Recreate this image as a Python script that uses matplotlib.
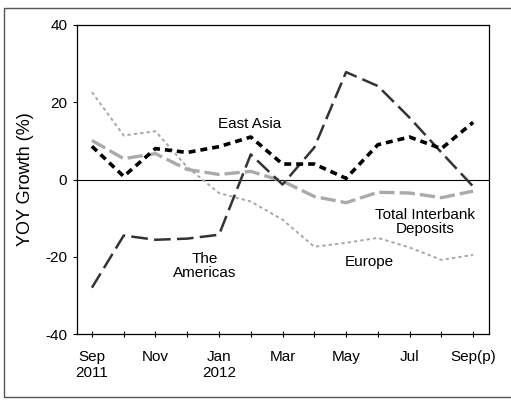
import numpy as np
import matplotlib
matplotlib.use("Agg")
import matplotlib.pyplot as plt
from matplotlib.patches import Rectangle

plt.rcParams['font.family'] = ['Liberation Sans', 'DejaVu Sans']
plt.rcParams['lines.scale_dashes'] = False
plt.rcParams['axes.unicode_minus'] = False

# Datos (crecimiento interanual, %)
months = ["Sep\n2011", "", "Nov", "", "Jan\n2012", "", "Mar", "", "May", "", "Jul", "", "Sep(p)"]
east_asia = [8.6, 0.8, 8.0, 7.0, 8.5, 11.0, 4.0, 4.0, 0.3, 9.0, 11.0, 8.0, 14.8]
americas = [-28.0, -14.5, -15.6, -15.3, -14.3, 6.5, -1.3, 8.3, 27.8, 24.2, 16.0, 7.0, -1.8]
total = [10.1, 5.4, 6.7, 2.6, 1.3, 2.1, -0.4, -4.4, -6.0, -3.3, -3.5, -4.7, -3.0]
europe = [22.6, 11.4, 12.5, 3.2, -3.5, -5.7, -10.4, -17.4, -16.4, -15.1, -17.6, -20.8, -19.5]

x = np.arange(len(months))

fig = plt.figure(figsize=(5.11, 4.01), dpi=100)
ax = fig.add_axes([0.1507, 0.167, 0.8063, 0.7707])

# marco exterior
fig.patches.append(Rectangle((4 / 511, 4 / 401), 1.0, 389 / 401, transform=fig.transFigure,
                             fill=False, edgecolor='#555555', linewidth=1.0))

ax.axhline(0, color='black', linewidth=0.8, zorder=1)

ax.plot(x, europe, color='#a8a8a8', linewidth=1.4, dashes=(2.4, 2.2), zorder=2)
ax.plot(x, total, color='#aaaaaa', linewidth=2.4, dashes=(11, 3.6), zorder=3)
ax.plot(x, americas, color='#333333', linewidth=1.8, dashes=(12, 4.5), zorder=4)
ax.plot(x, east_asia, color='black', linewidth=2.6, dashes=(5, 3.6), zorder=5)

ax.text(4.95, 14.3, "East Asia", ha='center', va='center', fontsize=11)
ax.text(3.56, -22.4, "The\nAmericas", ha='center', va='center', fontsize=11, linespacing=1.0)
ax.text(10.5, -10.9, "Total Interbank\nDeposits", ha='center', va='center', fontsize=11, linespacing=1.0)
ax.text(8.72, -21.3, "Europe", ha='center', va='center', fontsize=11)

ax.set_xlim(-0.47, 12.5)
ax.set_ylim(-40, 40)
ax.set_yticks([-40, -20, 0, 20, 40])
ax.set_xticks(x)
ax.set_xticklabels(months, fontsize=11, linespacing=1.2)
ax.tick_params(axis='x', direction='inout', length=5, width=0.8, pad=9)
ax.tick_params(axis='y', direction='out', length=3, width=0.8, pad=4, labelsize=11)
ax.set_ylabel("YOY Growth (%)", fontsize=13)
ax.yaxis.set_label_coords(-0.105, 0.5)

for s in ax.spines.values():
    s.set_linewidth(0.9)

fig.savefig("out.png", dpi=100)
